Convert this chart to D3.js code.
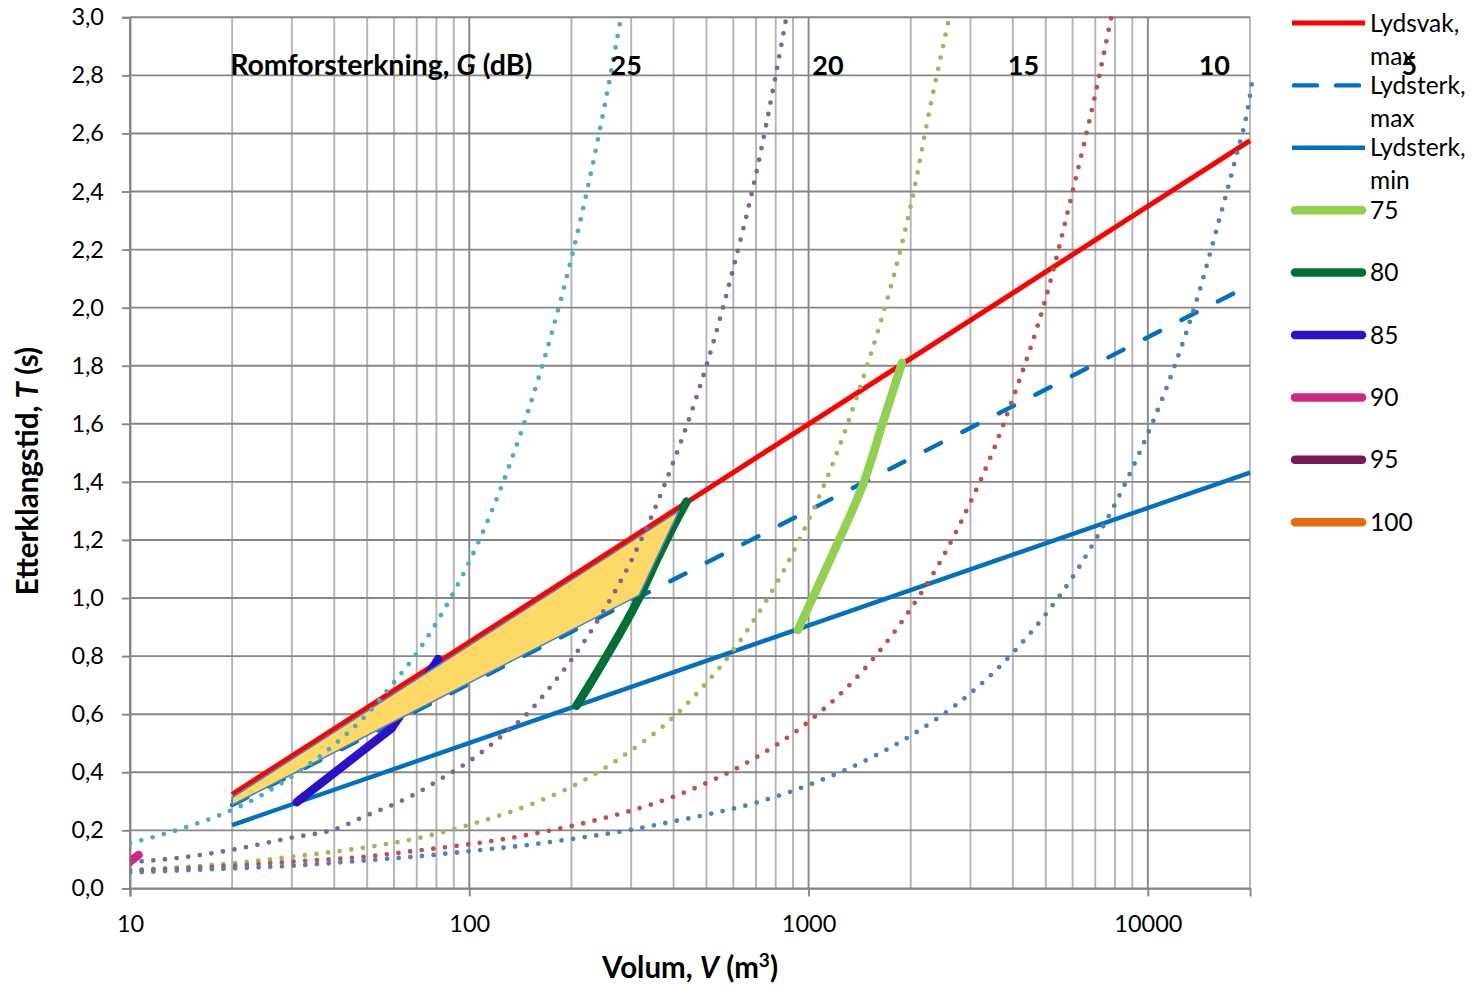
<!DOCTYPE html>
<html><head><meta charset="utf-8">
<script src="https://cdn.jsdelivr.net/npm/d3@7"></script>
<style>
body{margin:0;background:#fff;}
svg{display:block;font-family:Lato,"DejaVu Sans",sans-serif;}
</style>
</head><body>
<svg id="chart" width="1476" height="986"></svg>
<script>
// ---------- axis / tick data ----------
const xDomain = [10, 20000];
const yDomain = [0, 3];
const yTickValues = [0,0.2,0.4,0.6,0.8,1.0,1.2,1.4,1.6,1.8,2.0,2.2,2.4,2.6,2.8,3.0];
const xTickLabelValues = [10, 100, 1000, 10000];

// ---------- limit lines (Lydsvak / Lydsterk) ----------
const lydsvakMaxV = [20, 20000];
const lydsvakMaxT = [0.324, 2.575];
const lydsterkMaxV = [20, 20000];
const lydsterkMaxT = [0.287, 2.078];
const lydsterkMinV = [20, 20000];
const lydsterkMinT = [0.218, 1.432];

// ---------- thick series 75 .. 100 ----------
const s75V = [930, 1156, 1437, 1657, 1885];
const s75T = [0.89, 1.131, 1.382, 1.606, 1.81];
const s80V = [207, 237, 278, 318, 357, 399, 437];
const s80T = [0.629, 0.741, 0.879, 1.005, 1.131, 1.246, 1.332];
const s85V = [31, 42.6, 59, 81];
const s85T = [0.297, 0.423, 0.551, 0.79];
const s90V = [9.8, 10.6];
const s90T = [0.084, 0.115];
const s95V = [];
const s95T = [];
const s100V = [];
const s100T = [];

// ---------- shaded area ----------
const areaV = [20, 415, 317, 20];
const areaT = [0.313, 1.30, 1.01, 0.287];

// ---------- Romforsterkning G curves (dotted) ----------
const g25V = [10, 15, 20, 30, 40, 50, 60, 70, 80, 90, 100, 125, 150, 175, 200, 225, 250, 280];
const g25T = [0.155, 0.215, 0.27, 0.385, 0.495, 0.60, 0.71, 0.81, 0.915, 1.02, 1.125, 1.39, 1.653, 1.913, 2.17, 2.43, 2.69, 3.0];
const g20V = [10, 15, 20, 30, 40, 50, 60, 70, 80, 100, 125, 150, 175, 200, 250, 300, 350, 400, 450, 500, 600, 700, 800, 860];
const g20T = [0.09, 0.11, 0.133, 0.175, 0.203, 0.252, 0.29, 0.328, 0.368, 0.438, 0.526, 0.608, 0.70, 0.787, 0.96, 1.128, 1.30, 1.47, 1.635, 1.80, 2.136, 2.46, 2.80, 3.0];
const g15V = [10, 20, 30, 50, 70, 100, 150, 200, 300, 400, 500, 600, 700, 800, 1000, 1200, 1400, 1600, 1800, 2000, 2300, 2600];
const g15T = [0.063, 0.086, 0.109, 0.142, 0.172, 0.219, 0.287, 0.35, 0.475, 0.59, 0.708, 0.82, 0.935, 1.045, 1.268, 1.486, 1.706, 1.918, 2.128, 2.35, 2.71, 3.0];
const g10V = [10, 20, 30, 50, 70, 100, 150, 200, 300, 400, 500, 700, 1000, 1500, 2000, 2500, 3000, 3500, 4000, 5000, 6000, 7000, 7800];
const g10T = [0.061, 0.078, 0.092, 0.11, 0.13, 0.152, 0.185, 0.215, 0.268, 0.316, 0.363, 0.451, 0.574, 0.771, 0.963, 1.146, 1.33, 1.507, 1.687, 2.032, 2.40, 2.735, 3.0];
const g5V = [10, 20, 30, 50, 70, 100, 150, 200, 300, 400, 500, 700, 1000, 1500, 2000, 3000, 4000, 5000, 6000, 7000, 8000, 9000, 10000, 12000, 14000, 16000, 18000, 20000, 20400];
const g5T = [0.055, 0.069, 0.078, 0.097, 0.11, 0.128, 0.15, 0.17, 0.202, 0.231, 0.254, 0.295, 0.356, 0.445, 0.526, 0.672, 0.811, 0.944, 1.072, 1.20, 1.323, 1.447, 1.566, 1.80, 2.035, 2.276, 2.50, 2.73, 2.80];

// G labels on the chart
const gLabelText = ["25", "20", "15", "10", "5"];
const gLabelV = [290, 1140, 4300, 15700, 59000];
const gLabelT = 2.8;
const gTitleV = 20;

// legend
const legendNames = ["Lydsvak, max", "Lydsterk, max", "Lydsterk, min", "75", "80", "85", "90", "95", "100"];

// ---------- setup ----------
const svg = d3.select("#chart");
const x = d3.scaleLog().domain(xDomain).range([130, 1250]);
const y = d3.scaleLinear().domain(yDomain).range([888.4, 17.3]);
const zip = (V, T) => V.map((v, i) => [v, T[i]]);

const GRID_DARK = "#868686", GRID_LIGHT = "#b4b4b4";

// gridlines
const grid = svg.append("g");
grid.selectAll("line.v").data(x.ticks()).join("line")
  .attr("x1", d => x(d)).attr("x2", d => x(d))
  .attr("y1", y(3)).attr("y2", y(0))
  .attr("stroke", d => Number.isInteger(Math.log10(d)) ? GRID_DARK : GRID_LIGHT)
  .attr("stroke-width", 1.9);
grid.selectAll("line.h").data(yTickValues).join("line")
  .attr("x1", x(10)).attr("x2", x(20000))
  .attr("y1", d => y(d)).attr("y2", d => y(d))
  .attr("stroke", GRID_DARK).attr("stroke-width", 1.9);

// axes
const fmtY = d => d3.format(".1f")(d).replace(".", ",");
const yAxis = svg.append("g").attr("transform", `translate(${x(10)},0)`)
  .call(d3.axisLeft(y).tickValues(yTickValues).tickSize(8).tickPadding(18).tickFormat(fmtY));
const xAxis = svg.append("g").attr("transform", `translate(0,${y(0)})`)
  .call(d3.axisBottom(x).tickValues(xTickLabelValues).tickSize(8).tickPadding(19).tickFormat(d3.format("d")));
[yAxis, xAxis].forEach(a => {
  a.select(".domain").attr("stroke", GRID_DARK).attr("stroke-width", 1.9);
  a.selectAll(".tick line").attr("stroke", GRID_DARK).attr("stroke-width", 1.9);
  a.selectAll(".tick text").attr("font-size", 23.5).attr("fill", "#000").attr("font-family", "Lato");
});

// clip
svg.append("defs").append("clipPath").attr("id", "plotclip")
  .append("rect").attr("x", x(10)).attr("y", 10).attr("width", x(20000) - x(10) + 6).attr("height", y(0) - 10 + 4);
const plot = svg.append("g").attr("clip-path", "url(#plotclip)");

const lineGen = d3.line().x(d => x(d[0])).y(d => y(d[1]));
const curveGen = d3.line().x(d => x(d[0])).y(d => y(d[1])).curve(d3.curveMonotoneX);
const smoothGen = d3.line().x(d => x(d[0])).y(d => y(d[1])).curve(d3.curveCatmullRom.alpha(0.5));

// limit lines
const limitSeries = [
  {V: lydsterkMinV, T: lydsterkMinT, color: "#0070C0", w: 4.4, dash: null},
  {V: lydsterkMaxV, T: lydsterkMaxT, color: "#0070C0", w: 4.4, dash: "17 24"},
  {V: lydsvakMaxV, T: lydsvakMaxT, color: "#FF0000", w: 5, dash: null}
];
plot.selectAll("path.limit").data(limitSeries).join("path")
  .attr("d", s => lineGen(zip(s.V, s.T)))
  .attr("fill", "none").attr("stroke", s => s.color).attr("stroke-width", s => s.w)
  .attr("stroke-dasharray", s => s.dash).attr("stroke-linecap", s => s.dash ? "round" : "butt");

// thick series
const thickSeries = [
  {V: s75V, T: s75T, color: "#92D050", curve: true},
  {V: s80V, T: s80T, color: "#006F33", curve: true},
  {V: s85V, T: s85T, color: "#2A10C8", curve: false},
  {V: s90V, T: s90T, color: "#CC2A7D", curve: false},
  {V: s95V, T: s95T, color: "#7A1850", curve: false},
  {V: s100V, T: s100T, color: "#E46C0A", curve: false}
];
plot.selectAll("path.thick").data(thickSeries.filter(s => s.V.length > 1)).join("path")
  .attr("d", s => (s.curve ? smoothGen : lineGen)(zip(s.V, s.T)))
  .attr("fill", "none").attr("stroke", s => s.color).attr("stroke-width", 8.5)
  .attr("stroke-linecap", "round").attr("stroke-linejoin", "round");

// shaded area
plot.append("path")
  .attr("d", lineGen(zip(areaV, areaT)) + "Z")
  .attr("fill", "#FFD966").attr("stroke", "#4F81BD").attr("stroke-width", 1.6).attr("stroke-linejoin", "round");

// dotted G curves
const gSeries = [
  {V: g25V, T: g25T, color: "#4BACC6"},
  {V: g20V, T: g20T, color: "#8064A2"},
  {V: g15V, T: g15T, color: "#9BBB59"},
  {V: g10V, T: g10T, color: "#C0504D"},
  {V: g5V, T: g5T, color: "#4F81BD"}
];
plot.selectAll("path.g").data(gSeries).join("path")
  .attr("d", s => curveGen(zip(s.V, s.T)))
  .attr("fill", "none").attr("stroke", s => s.color).attr("stroke-width", 4.8)
  .attr("stroke-dasharray", "0 11.7").attr("stroke-linecap", "round");

// G labels
const lab = svg.append("g").attr("font-weight", "bold").attr("fill", "#000");
lab.selectAll("text.g").data(gLabelText).join("text")
  .attr("x", (d, i) => x(gLabelV[i])).attr("y", y(gLabelT))
  .attr("font-size", 27).attr("text-anchor", "middle").text(d => d);
const t = lab.append("text").attr("x", x(gTitleV) - 2).attr("y", y(gLabelT)).attr("font-size", 28.5);
t.append("tspan").text("Romforsterkning, ");
t.append("tspan").attr("font-style", "italic").text("G");
t.append("tspan").text(" (dB)");

// axis titles
const yt = svg.append("text").attr("transform", "translate(38,471) rotate(-90)")
  .attr("text-anchor", "middle").attr("font-weight", "bold").attr("font-size", 29.5);
yt.append("tspan").text("Etterklangstid, ");
yt.append("tspan").attr("font-style", "italic").text("T");
yt.append("tspan").text(" (s)");
const xt = svg.append("text").attr("x", 690).attr("y", 978)
  .attr("text-anchor", "middle").attr("font-weight", "bold").attr("font-size", 29.5);
xt.append("tspan").text("Volum, ");
xt.append("tspan").attr("font-style", "italic").text("V");
xt.append("tspan").text(" (m");
xt.append("tspan").attr("font-size", 19).attr("dy", -11).text("3");
xt.append("tspan").attr("dy", 11).text(")");

// legend
const legendStyle = [
  {color: "#FF0000", w: 5, dash: null, cap: "butt"},
  {color: "#0070C0", w: 4.4, dash: "23 19", cap: "round"},
  {color: "#0070C0", w: 4.4, dash: null, cap: "butt"},
  ...thickSeries.map(s => ({color: s.color, w: 8.5, dash: null, cap: "round"}))
];
const leg = svg.append("g").attr("font-size", 24.5).attr("fill", "#000");
legendNames.forEach((name, i) => {
  const cy = 23 + i * 62.4;
  const st = legendStyle[i];
  const x1 = st.dash ? 1294 : (st.cap === "round" ? 1295 : 1292);
  const x2 = st.dash ? 1362 : (st.cap === "round" ? 1362 : 1365);
  leg.append("line").attr("x1", x1).attr("x2", x2).attr("y1", cy).attr("y2", cy)
    .attr("stroke", st.color).attr("stroke-width", st.w).attr("stroke-linecap", st.cap)
    .attr("stroke-dasharray", st.dash);
  const parts = name.split(" ");
  parts.forEach((p, j) => {
    leg.append("text").attr("x", 1370).attr("y", cy + 8.5 + j * 33).text(p);
  });
});
</script>
</body></html>
